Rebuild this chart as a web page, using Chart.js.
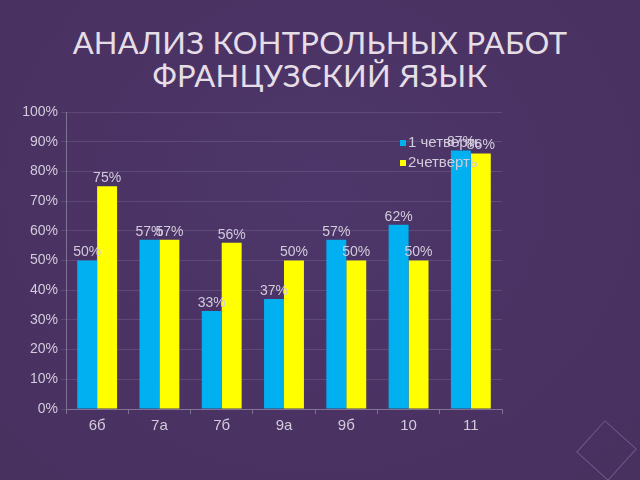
<!DOCTYPE html>
<html><head><meta charset="utf-8">
<script src="https://cdn.jsdelivr.net/npm/chart.js@4"></script>
<style>
html,body{margin:0;padding:0;background:#4a3366;}
#wrap{position:relative;width:640px;height:480px;background:radial-gradient(ellipse at 50% 40%,#4d3669 0%,#48305f 100%);overflow:hidden;}
#title{position:absolute;left:0;top:26px;width:640px;text-align:center;color:#e6dee6;font-family:Lato,"Open Sans",sans-serif;font-size:31px;line-height:33px;letter-spacing:0.3px;}
canvas{position:absolute;left:0;top:0;}
#diamond{position:absolute;left:585px;top:429px;width:41px;height:41px;border:1px solid #6d5a8a;transform:rotate(42deg);}
</style></head><body>
<div id="wrap">
<div id="title">АНАЛИЗ КОНТРОЛЬНЫХ РАБОТ<br>ФРАНЦУЗСКИЙ ЯЗЫК</div>
<div id="diamond"></div>
<canvas id="c" width="640" height="480"></canvas>
</div>
<script>
const categories = ["6б","7а","7б","9а","9б","10","11"];
const q1Label = "1 четверть";
const q2Label = "2четверть";
const q1Values = [50,57,33,37,57,62,87];
const q2Values = [75,57,56,50,50,50,86];
const yTicks = [0,10,20,30,40,50,60,70,80,90,100];

const textColor = "#d3cbdc";

const dataLabels = {
  id: "dataLabels",
  afterDatasetsDraw(chart) {
    const ctx = chart.ctx;
    ctx.save();
    ctx.font = "14px Arial, 'Liberation Sans', sans-serif";
    ctx.fillStyle = textColor;
    ctx.textAlign = "center";
    ctx.textBaseline = "bottom";
    chart.data.datasets.forEach((ds, i) => {
      const meta = chart.getDatasetMeta(i);
      meta.data.forEach((el, j) => {
        ctx.fillText(ds.data[j] + "%", el.x, el.y - 1);
      });
    });
    ctx.restore();
  }
};

const customLegend = {
  id: "customLegend",
  afterDraw(chart) {
    const ctx = chart.ctx;
    ctx.save();
    ctx.font = "15px Arial, 'Liberation Sans', sans-serif";
    ctx.textBaseline = "middle";
    ctx.textAlign = "left";
    chart.data.datasets.forEach((ds, i) => {
      const y = 143 + i * 20;
      ctx.fillStyle = ds.backgroundColor;
      ctx.fillRect(400, y - 3, 6, 6);
      ctx.fillStyle = textColor;
      ctx.fillText(ds.label, 408, y);
    });
    ctx.restore();
  }
};

new Chart(document.getElementById("c"), {
  type: "bar",
  data: {
    labels: categories,
    datasets: [
      { label: q1Label, data: q1Values, backgroundColor: "#00b0f0", barPercentage: 1.0, categoryPercentage: 0.64 },
      { label: q2Label, data: q2Values, backgroundColor: "#ffff00", barPercentage: 1.0, categoryPercentage: 0.64 }
    ]
  },
  options: {
    responsive: false,
    animation: false,
    layout: { padding: { top: 112, right: 138, bottom: 26, left: 8 } },
    plugins: { legend: { display: false }, tooltip: { enabled: false }, title: { display: false } },
    scales: {
      x: {
        grid: { drawOnChartArea: false, drawTicks: true, tickLength: 5, color: "#7f7294" },
        border: { color: "#7f7294" },
        ticks: { color: textColor, font: { size: 15, family: "Arial, 'Liberation Sans', sans-serif" }, padding: 3 },
        afterFit(s) { s.height = 45; }
      },
      y: {
        min: 0, max: 100,
        afterBuildTicks(s) { s.ticks = yTicks.map(v => ({ value: v })); },
        grid: { color: "rgba(200,185,220,0.16)", tickLength: 5 },
        border: { color: "#7f7294" },
        ticks: { color: textColor, font: { size: 14, family: "Arial, 'Liberation Sans', sans-serif" }, padding: 3, callback: v => v + "%" },
        afterFit(s) { s.width = 58; }
      }
    }
  },
  plugins: [dataLabels, customLegend]
});
</script>
</body></html>
